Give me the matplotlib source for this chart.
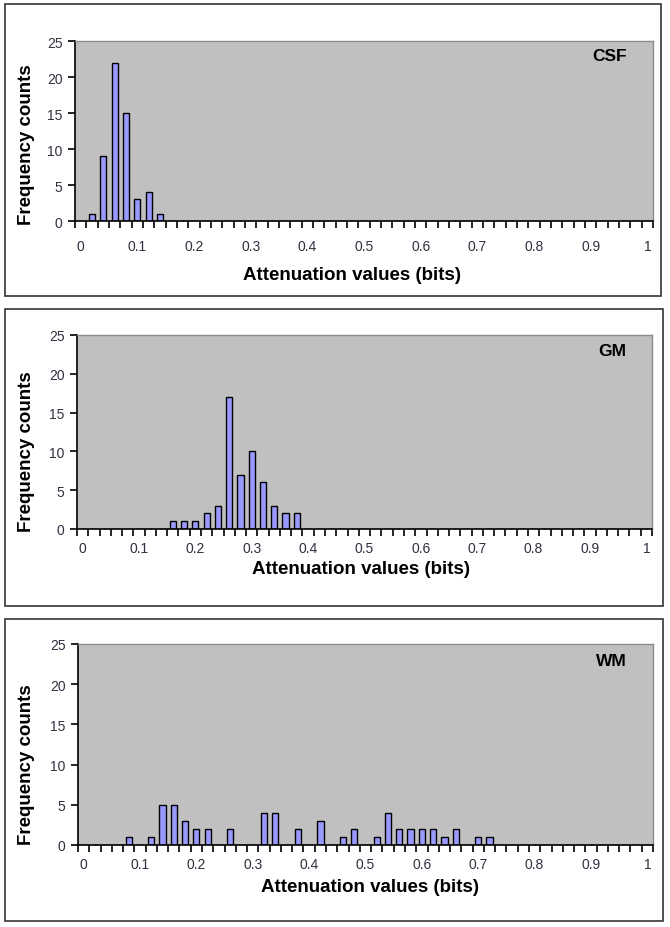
import matplotlib.pyplot as plt
from matplotlib.patches import Rectangle
from matplotlib.ticker import FixedLocator
import numpy as np

plt.rcParams['font.family'] = ['Liberation Sans', 'DejaVu Sans']

# Attenuation categories (Excel category axis, step 0.02)
categories = [round(i * 0.02, 2) for i in range(51)]
tick_labels = ["0", "0.1", "0.2", "0.3", "0.4", "0.5", "0.6", "0.7", "0.8", "0.9", "1"]

# Frequency counts per attenuation value (non-zero bins only)
csf_vals = {0.02: 1, 0.04: 9, 0.06: 22, 0.08: 15, 0.10: 3, 0.12: 4, 0.14: 1}
gm_vals = {0.16: 1, 0.18: 1, 0.20: 1, 0.22: 2, 0.24: 3, 0.26: 17, 0.28: 7,
           0.30: 10, 0.32: 6, 0.34: 3, 0.36: 2, 0.38: 2}
wm_vals = {0.08: 1, 0.12: 1, 0.14: 5, 0.16: 5, 0.18: 3, 0.20: 2, 0.22: 2,
           0.26: 2, 0.32: 4, 0.34: 4, 0.38: 2, 0.42: 3, 0.46: 1, 0.48: 2,
           0.52: 1, 0.54: 4, 0.56: 2, 0.58: 2, 0.60: 2, 0.62: 2, 0.64: 1,
           0.66: 2, 0.70: 1, 0.72: 1}

panel_names = ["CSF", "GM", "WM"]
panel_data = [csf_vals, gm_vals, wm_vals]

W, H = 670, 928
fig = plt.figure(figsize=(W / 100, H / 100), dpi=100)


def fx(x):
    return x / W


def fy(y):
    return 1 - y / H


# pixel layout: box (l, t, r, b), plot (l, t, r, b), xlabel x/y, ylabel y, x tick pad
layout = [
    ((5, 5, 661, 297), (75, 42, 653, 222), 352, 275, 145, 13),
    ((5, 310, 663, 607), (77, 336, 652, 530), 361, 570, 452, 8.5),
    ((5, 620, 663, 922), (78, 645, 653, 846), 370, 888, 765, 9),
]

for name, vals, (box, plot, xlx, xly, yly, xpad) in zip(panel_names, panel_data, layout):
    bl, bt, br, bb = box
    fig.patches.append(Rectangle((fx(bl), fy(bb)), fx(br - bl), (bb - bt) / H,
                                 transform=fig.transFigure, fill=False,
                                 edgecolor='#333333', linewidth=1.2))
    pl, pt, pr, pb = plot
    ax = fig.add_axes([fx(pl), fy(pb), fx(pr - pl), (pb - pt) / H])
    ax.set_facecolor('#C0C0C0')

    heights = [vals.get(c, 0) for c in categories]
    idx = np.arange(len(categories))
    ax.bar(idx, heights, width=0.55, color='#9999FF', edgecolor='black', linewidth=1.0)

    ax.set_xlim(-0.5, len(categories) - 0.5)
    ax.set_ylim(0, 25)
    ax.set_yticks([0, 5, 10, 15, 20, 25])
    ax.set_xticks(idx[::5])
    ax.set_xticklabels(tick_labels)
    ax.xaxis.set_minor_locator(FixedLocator(np.arange(-0.5, len(categories), 1)))
    ax.tick_params(axis='x', which='major', length=0, pad=xpad, labelsize=10, labelcolor='#303040')
    ax.tick_params(axis='x', which='minor', length=5, width=1.2, direction='out')
    ax.tick_params(axis='y', length=5, width=1.2, direction='out', pad=4, labelsize=10,
                   labelcolor='#303040')

    for s in ['top', 'right']:
        ax.spines[s].set_color('#8C8C8C')
        ax.spines[s].set_linewidth(1.0)
    for s in ['left', 'bottom']:
        ax.spines[s].set_color('black')
        ax.spines[s].set_linewidth(1.2)

    ax.text(0.955, 0.92, name, transform=ax.transAxes, ha='right', va='center',
            fontsize=12.5, fontweight='bold')

    fig.text(fx(xlx), fy(xly), "Attenuation values (bits)", ha='center', va='center',
             fontsize=13.5, fontweight='bold')
    fig.text(fx(27), fy(yly), "Frequency counts", ha='center', va='center',
             rotation=90, fontsize=13.5, fontweight='bold')

fig.savefig("out.png", dpi=100)
